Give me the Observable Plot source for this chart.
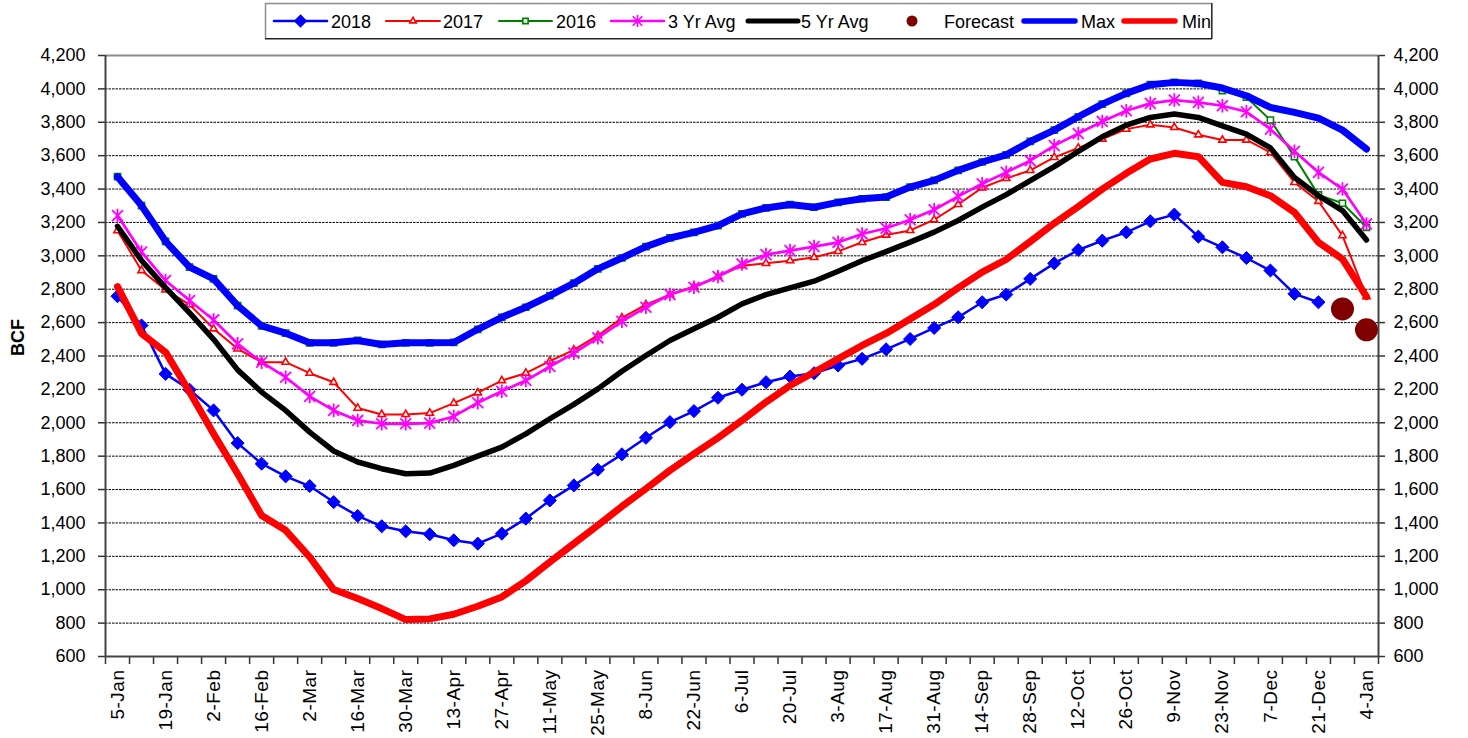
<!DOCTYPE html>
<html>
<head>
<meta charset="utf-8">
<script src="https://cdn.jsdelivr.net/npm/d3@7"></script>
<script src="https://cdn.jsdelivr.net/npm/@observablehq/plot@0.6"></script>
<style>
  html, body { margin: 0; padding: 0; background: #fff; overflow: hidden; }
  #legend { display: block; }
  g[aria-label="x-axis tick label"] text { letter-spacing: 0.5px; }
</style>
</head>
<body>
<script>
// ---------- data ----------
const dates = ["5-Jan","12-Jan","19-Jan","26-Jan","2-Feb","9-Feb","16-Feb","23-Feb","2-Mar","9-Mar","16-Mar","23-Mar","30-Mar","6-Apr","13-Apr","20-Apr","27-Apr","4-May","11-May","18-May","25-May","1-Jun","8-Jun","15-Jun","22-Jun","29-Jun","6-Jul","13-Jul","20-Jul","27-Jul","3-Aug","10-Aug","17-Aug","24-Aug","31-Aug","7-Sep","14-Sep","21-Sep","28-Sep","5-Oct","12-Oct","19-Oct","26-Oct","2-Nov","9-Nov","16-Nov","23-Nov","30-Nov","7-Dec","14-Dec","21-Dec","28-Dec","4-Jan"];

const s2018 = [2758,2583,2293,2198,2074,1878,1755,1679,1621,1525,1442,1380,1350,1332,1296,1276,1336,1426,1535,1625,1719,1811,1910,2004,2070,2150,2198,2243,2277,2297,2343,2383,2440,2502,2568,2632,2722,2768,2862,2955,3035,3091,3141,3207,3247,3115,3051,2987,2912,2772,2722,null,null];

const s2017 = [3151,2912,2796,2708,2563,2443,2363,2363,2297,2243,2088,2050,2050,2058,2118,2180,2253,2297,2369,2437,2523,2628,2708,2768,2816,2876,2941,2955,2971,2991,3027,3081,3125,3152,3216,3308,3408,3464,3512,3590,3646,3700,3759,3785,3769,3725,3694,3694,3620,3440,3327,3121,2756];

const s2016 = [3474,3301,3087,2932,2862,2702,2580,2537,2479,2479,2493,2469,2479,2479,2481,2560,2632,2692,2762,2836,2922,2987,3055,3107,3141,3181,3251,3287,3307,3291,3320,3342,3352,3412,3452,3512,3562,3605,3685,3753,3833,3909,3973,4025,4039,4033,3990,3950,3813,3594,3365,3315,3171];

const avg3 = [3241,3023,2852,2732,2616,2473,2363,2273,2158,2074,2014,1994,1994,1998,2038,2120,2189,2253,2337,2417,2509,2608,2692,2768,2812,2876,2951,3007,3031,3055,3081,3131,3165,3216,3276,3356,3432,3500,3570,3660,3733,3805,3869,3913,3933,3919,3899,3863,3759,3626,3500,3400,3191];

const avg5 = [3177,2972,2810,2658,2500,2317,2184,2074,1944,1831,1765,1725,1695,1699,1745,1800,1854,1934,2024,2110,2203,2309,2403,2493,2563,2632,2712,2768,2808,2848,2908,2971,3025,3082,3142,3212,3292,3367,3450,3534,3626,3713,3783,3829,3849,3829,3779,3729,3646,3470,3360,3271,3095];

const maxV = [3474,3301,3087,2932,2862,2702,2580,2537,2479,2479,2493,2469,2479,2479,2481,2560,2632,2692,2762,2836,2922,2987,3055,3107,3141,3181,3251,3287,3307,3291,3320,3342,3352,3412,3452,3512,3562,3605,3685,3753,3833,3909,3973,4025,4039,4033,4005,3959,3889,3859,3825,3753,3640];

const minV = [2816,2535,2423,2184,1934,1695,1445,1356,1196,1001,947,887,821,825,853,901,957,1053,1166,1276,1386,1499,1605,1715,1814,1910,2014,2124,2223,2303,2383,2463,2535,2622,2708,2808,2902,2978,3085,3195,3295,3400,3494,3580,3614,3594,3440,3414,3360,3261,3081,2981,2756];

const forecast = [null,null,null,null,null,null,null,null,null,null,null,null,null,null,null,null,null,null,null,null,null,null,null,null,null,null,null,null,null,null,null,null,null,null,null,null,null,null,null,null,null,null,null,null,null,null,null,null,null,null,null,2682,2557];

const yTicks = [600,800,1000,1200,1400,1600,1800,2000,2200,2400,2600,2800,3000,3200,3400,3600,3800,4000,4200];

// ---------- helpers ----------
const rows = arr => arr.map((v, i) => ({i, v})).filter(d => d.v != null);
const labelIdx = dates.map((d, i) => i).filter(i => i % 2 === 0);
const boundaries = d3.range(-0.5, dates.length, 1);

// Excel-like star marker: vertical bar + X
const excelStar = {
  draw(ctx, size) {
    const r = Math.sqrt(size / Math.PI);
    const d = r * 0.8;
    ctx.moveTo(0, -r); ctx.lineTo(0, r);
    ctx.moveTo(-d, -d); ctx.lineTo(d, d);
    ctx.moveTo(-d, d); ctx.lineTo(d, -d);
  }
};

const FONT = "'Liberation Sans', Arial, Helvetica, sans-serif";

// ---------- legend ----------
const legendItems = [
  {label: "2018", color: "#0000FF", w: 2.5, sym: d3.symbolDiamond2, fill: "#0000FF", size: 80, x0: 274, x1: 327, tx: 331},
  {label: "2017", color: "#FF0000", w: 2, sym: d3.symbolTriangle2, fill: "#fff", size: 30, x0: 386, x1: 440, tx: 443},
  {label: "2016", color: "#008000", w: 2, sym: d3.symbolSquare2, fill: "#fff", size: 36, x0: 499, x1: 552, tx: 556},
  {label: "3 Yr Avg", color: "#FF00FF", w: 2.5, sym: excelStar, fill: "none", size: 110, x0: 611, x1: 664, tx: 668},
  {label: "5 Yr Avg", color: "#000000", w: 5, x0: 748, x1: 798, tx: 801},
  {label: "Forecast", color: "#800000", dot: true, cx: 912, tx: 944},
  {label: "Max", color: "#0000FF", w: 5.5, x0: 1024, x1: 1075, tx: 1081},
  {label: "Min", color: "#FF0000", w: 5.5, x0: 1124, x1: 1175, tx: 1182}
];

const lsvg = d3.select("body").append("svg")
  .attr("id", "legend").attr("width", 1468).attr("height", 40)
  .style("font-family", FONT);
lsvg.append("rect").attr("x", 265).attr("y", 3).attr("width", 947).attr("height", 36).attr("fill", "#fff");
lsvg.append("line").attr("x1", 265).attr("x2", 1212).attr("y1", 3.5).attr("y2", 3.5).attr("stroke", "#8c8c8c").attr("stroke-width", 1.5);
lsvg.append("line").attr("x1", 265.5).attr("x2", 265.5).attr("y1", 3).attr("y2", 39).attr("stroke", "#8c8c8c").attr("stroke-width", 1.5);
lsvg.append("line").attr("x1", 265).attr("x2", 1212).attr("y1", 38.8).attr("y2", 38.8).attr("stroke", "#222").attr("stroke-width", 1.5);
lsvg.append("line").attr("x1", 1211.8).attr("x2", 1211.8).attr("y1", 3).attr("y2", 39).attr("stroke", "#222").attr("stroke-width", 1.5);
const cy = 21;
legendItems.forEach(it => {
  if (it.dot) {
    lsvg.append("circle").attr("cx", it.cx).attr("cy", cy).attr("r", 5.5).attr("fill", it.color);
  } else {
    lsvg.append("line").attr("x1", it.x0).attr("x2", it.x1).attr("y1", cy).attr("y2", cy)
      .attr("stroke", it.color).attr("stroke-width", it.w).attr("stroke-linecap", "round");
    if (it.sym) {
      lsvg.append("path").attr("transform", `translate(${(it.x0 + it.x1) / 2},${cy})`)
        .attr("d", d3.symbol(it.sym, it.size)())
        .attr("fill", it.fill).attr("stroke", it.color).attr("stroke-width", 1.6);
    }
  }
  lsvg.append("text").attr("x", it.tx).attr("y", cy + 6.5).attr("font-size", 18).attr("fill", "#000").text(it.label);
});

// ---------- chart ----------
const chart = Plot.plot({
  width: 1468,
  height: 698,
  marginTop: 15,
  marginBottom: 82,
  marginLeft: 105,
  marginRight: 90,
  style: {fontFamily: FONT, fontSize: "18px", background: "#fff", color: "#000", overflow: "visible"},
  x: {type: "linear", domain: [-0.5, dates.length - 0.5]},
  y: {domain: [600, 4200]},
  marks: [
    Plot.gridY({ticks: yTicks.slice(1, -1), stroke: "#000", strokeOpacity: 1, strokeWidth: 1, strokeDasharray: "2.5,1"}),
    Plot.axisY({ticks: yTicks, anchor: "left", tickSize: 7, tickPadding: 13, tickFormat: d3.format(","), label: null, stroke: "#333", strokeWidth: 1.5}),
    Plot.axisY({ticks: yTicks, anchor: "right", tickSize: 6, tickPadding: 9, tickFormat: d3.format(","), label: null, stroke: "#333", strokeWidth: 1.5}),
    Plot.axisX({ticks: labelIdx, anchor: "bottom", tickSize: 0, tickPadding: 13, tickRotate: -90, fontSize: 19, tickFormat: i => dates[i], label: null}),
    Plot.axisX({ticks: boundaries, anchor: "bottom", tickSize: 8, tickFormat: () => "", label: null, stroke: "#333", strokeWidth: 1.5}),
    Plot.ruleY([4200], {stroke: "#8c8c8c", strokeWidth: 2}),
    Plot.ruleY([600], {stroke: "#444", strokeWidth: 2}),
    Plot.ruleX([-0.5, dates.length - 0.5], {stroke: "#444", strokeWidth: 2}),
    Plot.text(["BCF"], {frameAnchor: "left", dx: -87, rotate: -90, fontWeight: "bold", fontSize: 18}),

    // 2018
    Plot.line(rows(s2018), {x: "i", y: "v", stroke: "#0000FF", strokeWidth: 2.5}),
    Plot.dot(rows(s2018), {x: "i", y: "v", symbol: "diamond2", r: 5.9, fill: "#0000FF", stroke: "#0000FF", strokeWidth: 1}),
    // 2017
    Plot.line(rows(s2017), {x: "i", y: "v", stroke: "#FF0000", strokeWidth: 2}),
    Plot.dot(rows(s2017), {x: "i", y: "v", symbol: "triangle2", r: 3.5, fill: "#fff", stroke: "#FF0000", strokeWidth: 1.6}),
    // 2016
    Plot.line(rows(s2016), {x: "i", y: "v", stroke: "#008000", strokeWidth: 2}),
    Plot.dot(rows(s2016), {x: "i", y: "v", symbol: "square2", r: 3.9, fill: "#fff", stroke: "#008000", strokeWidth: 1.6}),
    // 3 yr avg
    Plot.line(rows(avg3), {x: "i", y: "v", stroke: "#FF00FF", strokeWidth: 2.7}),
    Plot.dot(rows(avg3), {x: "i", y: "v", symbol: excelStar, r: 6.8, fill: "none", stroke: "#FF00FF", strokeWidth: 1.8}),
    // 5 yr avg
    Plot.line(rows(avg5), {x: "i", y: "v", stroke: "#000", strokeWidth: 5.5, strokeLinejoin: "round", strokeLinecap: "round"}),
    // forecast
    Plot.dot(rows(forecast), {x: "i", y: "v", r: 11.5, fill: "#800000", stroke: "none"}),
    // max / min
    Plot.line(rows(maxV), {x: "i", y: "v", stroke: "#0000FF", strokeWidth: 7, strokeLinejoin: "round", strokeLinecap: "round"}),
    Plot.line(rows(minV), {x: "i", y: "v", stroke: "#FF0000", strokeWidth: 7, strokeLinejoin: "round", strokeLinecap: "round"})
  ]
});
chart.style.display = "block";
document.body.appendChild(chart);
</script>
</body>
</html>
